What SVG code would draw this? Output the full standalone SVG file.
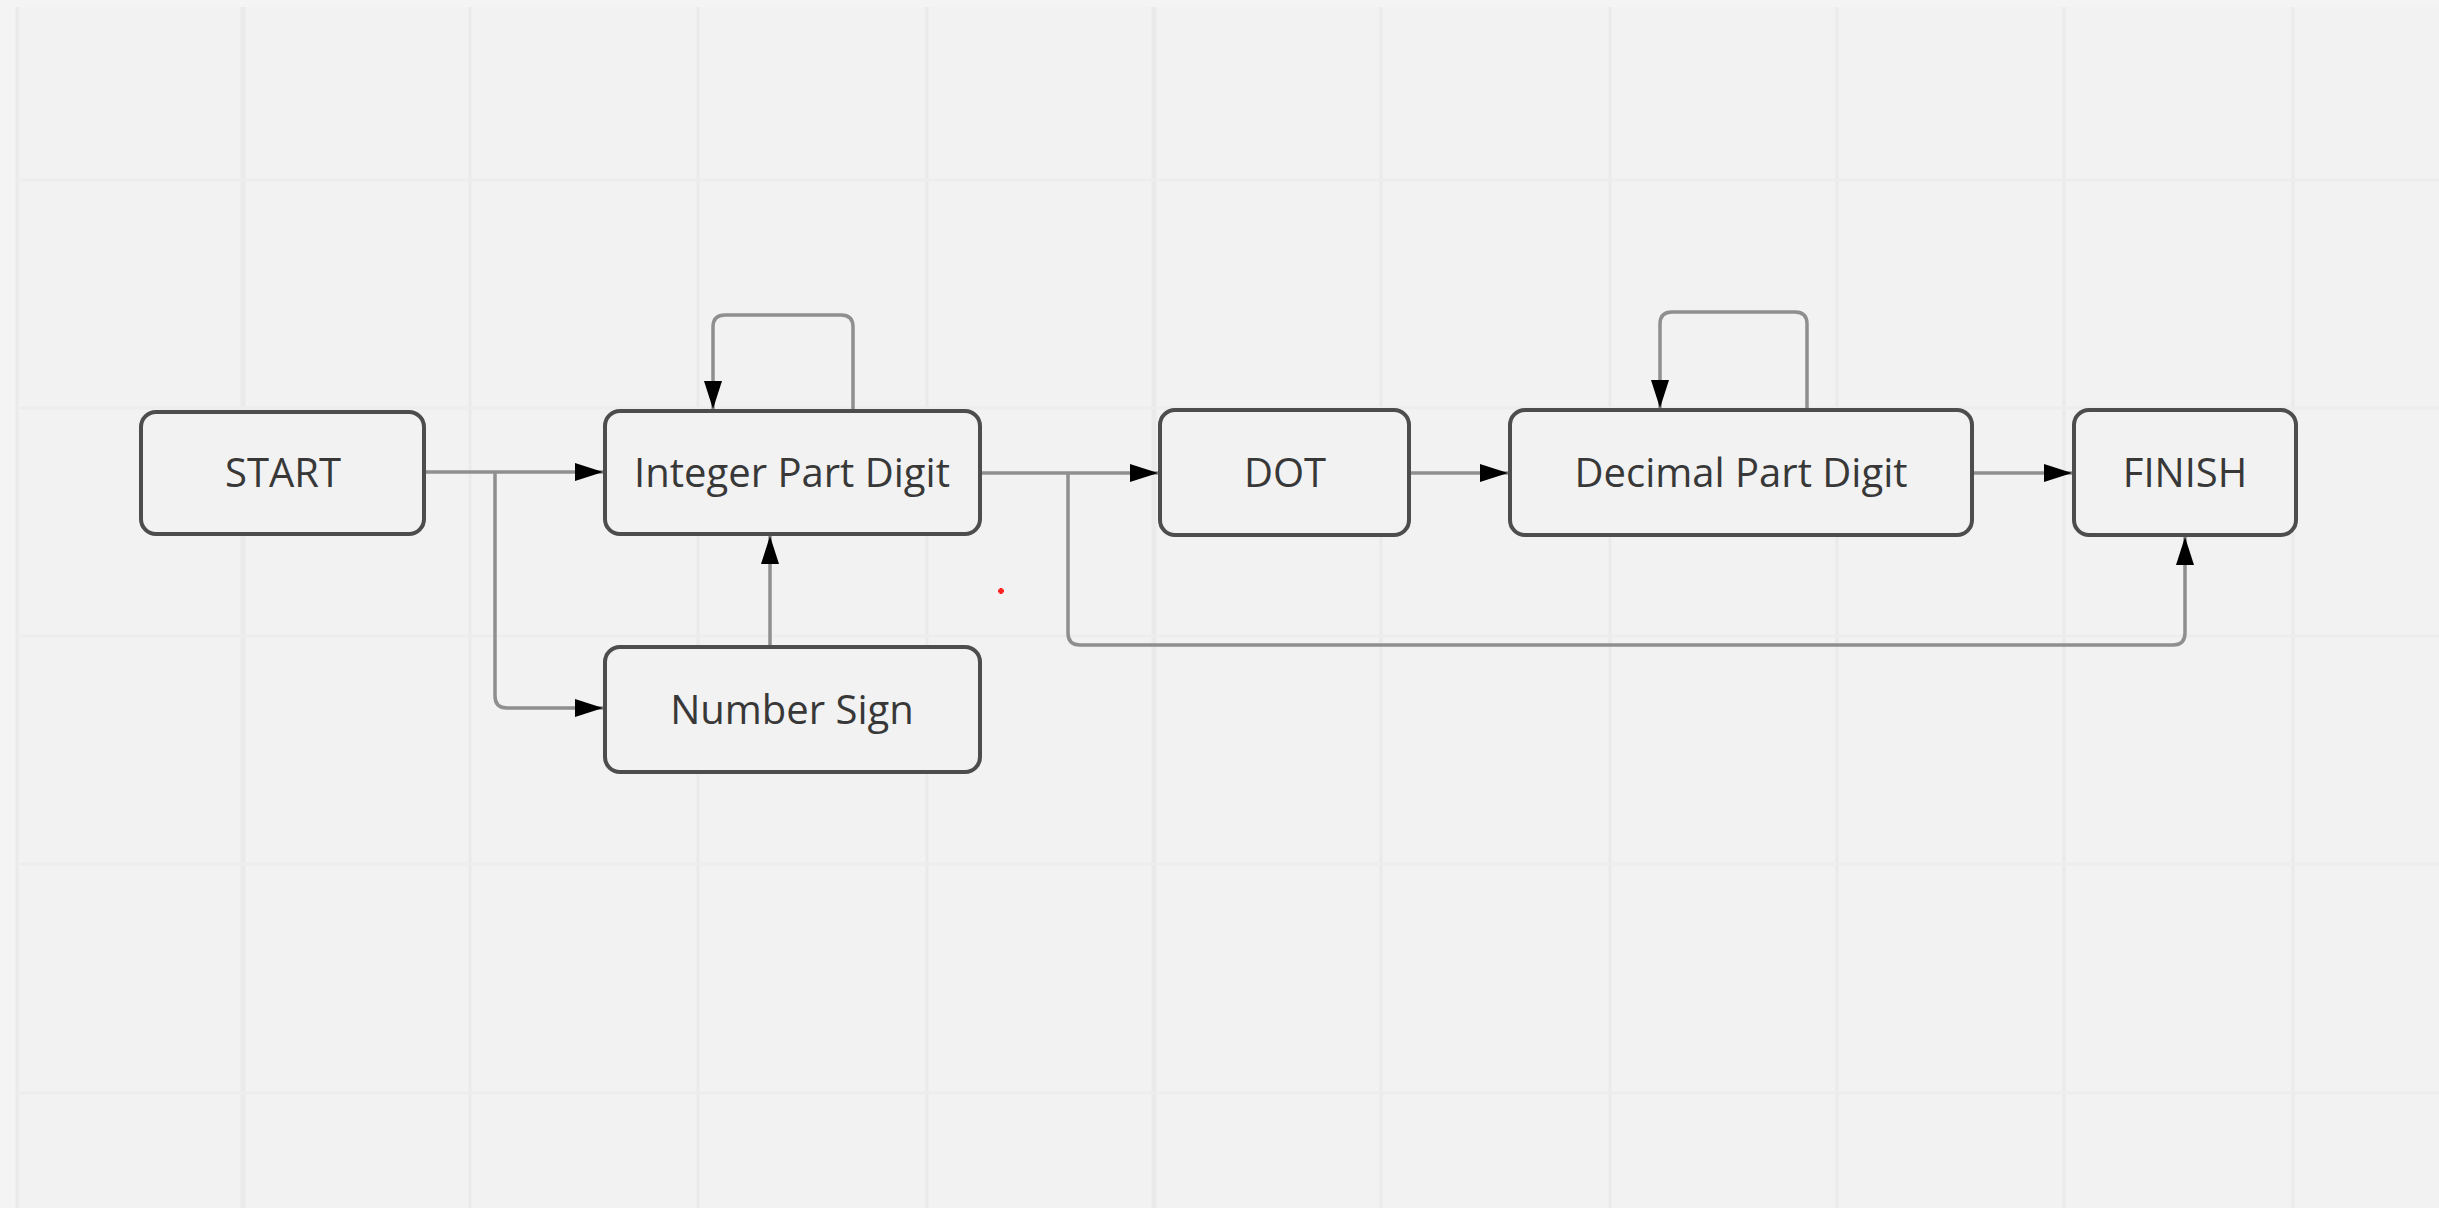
<svg xmlns="http://www.w3.org/2000/svg" width="2439" height="1208" viewBox="0 0 2439 1208">
  <style>
    .grid line { stroke: #eaeaea; stroke-width: 3; }
    .grid line.h { stroke: #ededed; }
    .node rect { fill: #f2f2f2; stroke: #4d4d4d; stroke-width: 4; }
    .node text { font-family: "Open Sans", "Liberation Sans", sans-serif; font-size: 40px; fill: #383838; text-anchor: middle; }
    .conn path { fill: none; stroke: #8f8f8f; stroke-width: 3.5; }
  </style>
  <defs>
    <marker id="arrow" markerUnits="userSpaceOnUse" markerWidth="30" markerHeight="20" refX="28" refY="10" orient="auto">
      <path d="M0,1 L28,10 L0,19 z" fill="#000000"/>
    </marker>
  </defs>

  <rect x="0" y="0" width="2439" height="1208" fill="#f4f4f4"/>
  <rect x="17" y="7" width="2422" height="1201" fill="#f2f2f2"/>

  <g class="grid">
    <line x1="17" y1="7" x2="17" y2="1208"/>
    <line x1="243" y1="7" x2="243" y2="1208" style="stroke-width:5"/>
    <line x1="470" y1="7" x2="470" y2="1208"/>
    <line x1="698" y1="7" x2="698" y2="1208"/>
    <line x1="927" y1="7" x2="927" y2="1208"/>
    <line x1="1154" y1="7" x2="1154" y2="1208" style="stroke-width:5"/>
    <line x1="1381" y1="7" x2="1381" y2="1208"/>
    <line x1="1610" y1="7" x2="1610" y2="1208"/>
    <line x1="1837" y1="7" x2="1837" y2="1208"/>
    <line x1="2064" y1="7" x2="2064" y2="1208"/>
    <line x1="2293" y1="7" x2="2293" y2="1208"/>
    <line class="h" x1="17" y1="180" x2="2439" y2="180"/>
    <line class="h" x1="17" y1="408" x2="2439" y2="408"/>
    <line class="h" x1="17" y1="636" x2="2439" y2="636"/>
    <line class="h" x1="17" y1="864" x2="2439" y2="864"/>
    <line class="h" x1="17" y1="1093" x2="2439" y2="1093"/>
  </g>

  <g id="connectors" class="conn">
    <path d="M424,472 H603" marker-end="url(#arrow)"/>
    <path d="M495,472 V696 Q495,708 507,708 H603" marker-end="url(#arrow)"/>
    <path d="M770,647 V536" marker-end="url(#arrow)"/>
    <path d="M853,411 V327 Q853,315 841,315 H725 Q713,315 713,327 V409" marker-end="url(#arrow)"/>
    <path d="M980,473 H1158" marker-end="url(#arrow)"/>
    <path d="M1068,473 V633 Q1068,645 1080,645 H2173 Q2185,645 2185,633 V537" marker-end="url(#arrow)"/>
    <path d="M1409,473 H1508" marker-end="url(#arrow)"/>
    <path d="M1807,410 V324 Q1807,312 1795,312 H1672 Q1660,312 1660,324 V408" marker-end="url(#arrow)"/>
    <path d="M1972,473 H2072" marker-end="url(#arrow)"/>
  </g>

  <g id="node-start" class="node">
    <rect x="141" y="412" width="283" height="122" rx="15"/>
    <text x="283" y="487">START</text>
  </g>
  <g id="node-integer" class="node">
    <rect x="605" y="411" width="375" height="123" rx="15"/>
    <text x="792" y="487">Integer Part Digit</text>
  </g>
  <g id="node-sign" class="node">
    <rect x="605" y="647" width="375" height="125" rx="15"/>
    <text x="792" y="724">Number Sign</text>
  </g>
  <g id="node-dot" class="node">
    <rect x="1160" y="410" width="249" height="125" rx="15"/>
    <text x="1285" y="487">DOT</text>
  </g>
  <g id="node-decimal" class="node">
    <rect x="1510" y="410" width="462" height="125" rx="15"/>
    <text x="1741" y="487">Decimal Part Digit</text>
  </g>
  <g id="node-finish" class="node">
    <rect x="2074" y="410" width="222" height="125" rx="15"/>
    <text x="2185" y="487">FINISH</text>
  </g>

  <g id="marker-dot">
    <rect x="998" y="589.5" width="6" height="3" fill="#ff2020"/>
    <rect x="999.5" y="588" width="3" height="6" fill="#ff2020"/>
  </g>
</svg>
